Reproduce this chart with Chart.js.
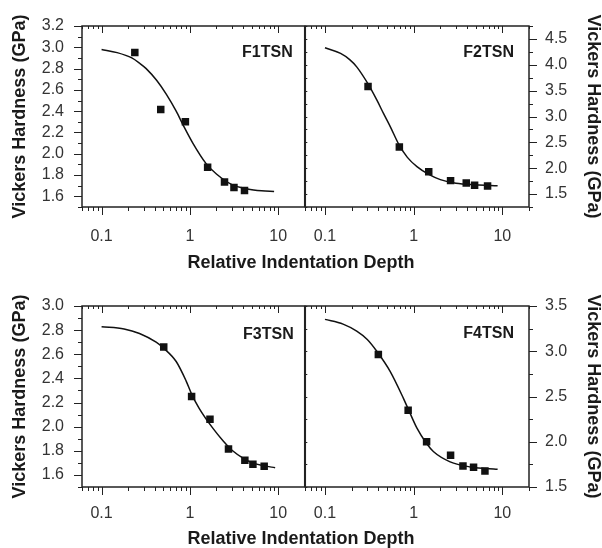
<!DOCTYPE html>
<html lang="en">
<head>
<meta charset="UTF-8">
<title>Vickers Hardness vs Relative Indentation Depth</title>
<script src="https://cdn.jsdelivr.net/npm/chart.js"></script>
<style>
  body { margin: 0; background: #fff; }
  #wrap { position: relative; width: 602px; height: 548px; overflow: hidden; }
  canvas { position: absolute; }
  .xtitle {
    position: absolute; left: 0; width: 602px; height: 20px; line-height: 20px;
    text-align: center; color: #1a1a1a;
    font: bold 18px Arial, "Liberation Sans", sans-serif;
  }
</style>
</head>
<body>
<div id="wrap">
  <canvas id="c1" style="left:0;top:0" width="310" height="280"></canvas>
  <canvas id="c2" style="left:300px;top:0" width="302" height="280"></canvas>
  <canvas id="c3" style="left:0;top:280px" width="310" height="268"></canvas>
  <canvas id="c4" style="left:300px;top:280px" width="302" height="268"></canvas>
  <div class="xtitle" style="top:252px">Relative Indentation Depth</div>
  <div class="xtitle" style="top:528px">Relative Indentation Depth</div>
</div>

<script>
// ---- data ----
var xMajor = [0.1, 1, 10];
var xTickLabels = ['0.1', '1', '10'];
var xMinor = [0.06, 0.07, 0.08, 0.09, 0.2, 0.3, 0.4, 0.5, 0.6, 0.7, 0.8, 0.9,
              2, 3, 4, 5, 6, 7, 8, 9, 20];

// F1TSN
var f1X = [0.238, 0.468, 0.89, 1.59, 2.47, 3.16, 4.16];
var f1Y = [2.95, 2.416, 2.30, 1.873, 1.735, 1.682, 1.654];
var f1FitX = [0.1, 0.15, 0.22, 0.27, 0.32, 0.42, 0.54, 0.7, 0.85, 1.08, 1.52, 2.0, 3.0, 4.5, 6.5, 9.0];
var f1FitY = [2.98, 2.95, 2.90, 2.85, 2.80, 2.69, 2.56, 2.40, 2.26, 2.10, 1.91, 1.81, 1.71, 1.67, 1.652, 1.645];
var f1Ticks = [1.6, 1.8, 2.0, 2.2, 2.4, 2.6, 2.8, 3.0, 3.2];

// F2TSN
var f2X = [0.306, 0.69, 1.48, 2.61, 3.92, 4.87, 6.82];
var f2Y = [3.58, 2.41, 1.93, 1.76, 1.715, 1.67, 1.657];
var f2FitX = [0.1, 0.15, 0.19, 0.228, 0.306, 0.384, 0.46, 0.543, 0.69, 0.85, 1.09, 1.48, 2.0, 3.0, 5.0, 8.85];
var f2FitY = [4.33, 4.22, 4.10, 3.96, 3.63, 3.32, 3.05, 2.81, 2.44, 2.21, 2.03, 1.88, 1.78, 1.71, 1.68, 1.66];
var f2Ticks = [1.5, 2.0, 2.5, 3.0, 3.5, 4.0, 4.5];

// F3TSN
var f3X = [0.506, 1.047, 1.69, 2.74, 4.2, 5.18, 6.95];
var f3Y = [2.661, 2.25, 2.061, 1.814, 1.722, 1.689, 1.672];
var f3FitX = [0.1, 0.18, 0.269, 0.415, 0.506, 0.7, 0.906, 1.047, 1.28, 1.81, 2.4, 3.05, 4.0, 5.13, 7.0, 9.25];
var f3FitY = [2.828, 2.81, 2.772, 2.70, 2.65, 2.54, 2.38, 2.27, 2.15, 1.99, 1.88, 1.80, 1.74, 1.70, 1.675, 1.66];
var f3Ticks = [1.6, 1.8, 2.0, 2.2, 2.4, 2.6, 2.8, 3.0];

// F4TSN
var f4X = [0.40, 0.867, 1.40, 2.61, 3.6, 4.74, 6.37];
var f4Y = [2.963, 2.348, 2.0, 1.852, 1.733, 1.719, 1.678];
var f4FitX = [0.1, 0.16, 0.228, 0.30, 0.384, 0.543, 0.767, 0.87, 1.09, 1.4, 1.68, 2.58, 4.35, 6.5, 8.85];
var f4FitY = [3.352, 3.30, 3.222, 3.13, 3.00, 2.778, 2.48, 2.36, 2.15, 1.98, 1.889, 1.778, 1.722, 1.705, 1.697];
var f4Ticks = [1.5, 2.0, 2.5, 3.0, 3.5];

var FONT = 'Arial, "Liberation Sans", sans-serif';

function steps(from, to, step) {
  var out = [];
  for (var v = from; v <= to + 1e-9; v += step) out.push(+v.toFixed(3));
  return out;
}

function pts(xs, ys) {
  return xs.map(function (x, i) { return { x: x, y: ys[i] }; });
}

// frame, mirrored ticks and the sample label
var frameTicks = {
  id: 'frameTicks',
  afterDraw: function (chart, args, o) {
    var ctx = chart.ctx, a = chart.chartArea;
    var xs = chart.scales.x, ys = chart.scales.y;
    ctx.save();
    ctx.strokeStyle = '#222';
    ctx.lineWidth = 1;
    ctx.beginPath();
    xMajor.concat(xMinor).forEach(function (v) {
      var px = Math.round(xs.getPixelForValue(v)) + 0.5;
      var len = xMajor.indexOf(v) >= 0 ? 8 : 4;
      ctx.moveTo(px, a.bottom); ctx.lineTo(px, a.bottom + len);
      ctx.moveTo(px, a.top); ctx.lineTo(px, a.top + len - 1);
    });
    o.yMinor.forEach(function (v) {
      var py = Math.round(ys.getPixelForValue(v)) + 0.5;
      var major = o.yMajor.some(function (m) { return Math.abs(m - v) < 1e-6; });
      var len = major ? 8 : 4;
      if (o.side === 'left') {
        ctx.moveTo(a.left, py); ctx.lineTo(a.left - len, py);
      } else {
        ctx.moveTo(a.right, py); ctx.lineTo(a.right + len, py);
        ctx.moveTo(a.left, py); ctx.lineTo(a.left + 2, py);
      }
    });
    ctx.stroke();
    ctx.lineWidth = 1.5;
    ctx.strokeRect(a.left, a.top, a.right - a.left, a.bottom - a.top);

    ctx.fillStyle = '#1a1a1a';
    ctx.font = 'bold 16px ' + FONT;
    ctx.textAlign = 'right';
    ctx.textBaseline = 'middle';
    ctx.fillText(o.label, a.right - o.labelRight, a.top + o.labelY);
    ctx.restore();
  }
};

function makePanel(id, cfg) {
  var left = cfg.side === 'left';
  new Chart(document.getElementById(id), {
    type: 'scatter',
    data: {
      datasets: [{
        label: cfg.label,
        data: pts(cfg.x, cfg.y),
        pointStyle: 'rect',
        pointRadius: 5.3,
        pointHoverRadius: 5.3,
        backgroundColor: '#111',
        borderWidth: 0
      }, {
        label: cfg.label + ' fit',
        data: pts(cfg.fitX, cfg.fitY),
        showLine: true,
        borderColor: '#111',
        borderWidth: 1.5,
        pointRadius: 0,
        cubicInterpolationMode: 'monotone',
        fill: false
      }]
    },
    options: {
      responsive: false,
      animation: false,
      devicePixelRatio: 1,
      layout: { padding: { top: 26, bottom: 0, left: left ? 0 : 5, right: left ? 5 : 0 } },
      plugins: {
        legend: { display: false },
        tooltip: { enabled: false },
        frameTicks: {
          side: cfg.side, yMajor: cfg.ticks, yMinor: cfg.minor,
          label: cfg.label, labelRight: cfg.labelRight, labelY: cfg.labelY
        }
      },
      scales: {
        x: {
          type: 'logarithmic',
          min: 0.06, max: 20,
          grid: { display: false, drawTicks: false },
          border: { display: false },
          afterBuildTicks: function (s) { s.ticks = xMajor.map(function (v) { return { value: v }; }); },
          afterFit: function (s) {
            s.height = cfg.xHeight;
            s.paddingLeft = 0;
            s.paddingRight = 0;
          },
          ticks: {
            autoSkip: false, maxRotation: 0, padding: cfg.xPad,
            color: '#333', font: { size: 16, family: FONT },
            callback: function (v, i) { return xTickLabels[i]; }
          }
        },
        y: {
          type: 'linear',
          position: cfg.side,
          min: cfg.min, max: cfg.max,
          grid: { display: false, drawTicks: false },
          border: { display: false },
          afterBuildTicks: function (s) { s.ticks = cfg.ticks.map(function (v) { return { value: v }; }); },
          afterFit: function (s) {
            s.width = left ? 82 : 73;
            s.paddingTop = 0;
            s.paddingBottom = 0;
          },
          ticks: {
            padding: left ? 18 : 16,
            color: '#333', font: { size: 16, family: FONT },
            callback: function (v) { return v.toFixed(1); }
          },
          title: {
            display: true,
            text: 'Vickers Hardness (GPa)',
            color: '#1a1a1a',
            font: { size: 18, weight: 'bold', family: FONT, lineHeight: 1 },
            padding: { top: left ? 11 : 0, bottom: 0 }
          }
        }
      }
    },
    plugins: [frameTicks]
  });
}

makePanel('c1', {
  label: 'F1TSN', side: 'left', x: f1X, y: f1Y, fitX: f1FitX, fitY: f1FitY,
  ticks: f1Ticks, minor: steps(1.5, 3.2, 0.1), min: 1.5, max: 3.2,
  xHeight: 73, xPad: 20, labelRight: 12, labelY: 26.5
});
makePanel('c2', {
  label: 'F2TSN', side: 'right', x: f2X, y: f2Y, fitX: f2FitX, fitY: f2FitY,
  ticks: f2Ticks, minor: steps(1.25, 4.75, 0.25), min: 1.25, max: 4.75,
  xHeight: 73, xPad: 20, labelRight: 15, labelY: 26.5
});
makePanel('c3', {
  label: 'F3TSN', side: 'left', x: f3X, y: f3Y, fitX: f3FitX, fitY: f3FitY,
  ticks: f3Ticks, minor: steps(1.5, 3.0, 0.1), min: 1.5, max: 3.0,
  xHeight: 61, xPad: 17, labelRight: 11, labelY: 29
});
makePanel('c4', {
  label: 'F4TSN', side: 'right', x: f4X, y: f4Y, fitX: f4FitX, fitY: f4FitY,
  ticks: f4Ticks, minor: steps(1.5, 3.5, 0.25), min: 1.5, max: 3.5,
  xHeight: 61, xPad: 17, labelRight: 15, labelY: 27.5
});
</script>
</body>
</html>
